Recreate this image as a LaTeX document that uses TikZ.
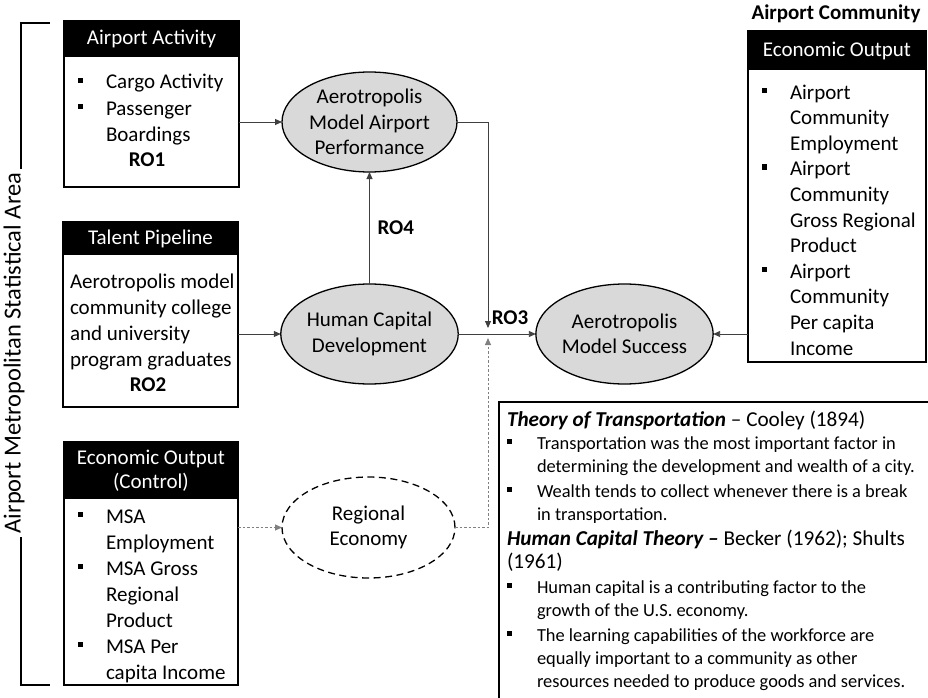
\documentclass[tikz,border=0pt]{standalone}
\usepackage{fontspec}
\setmainfont{Carlito}
\usetikzlibrary{shapes.geometric,arrows.meta}

\definecolor{bubblegray}{HTML}{D9D9D9}
\definecolor{linkgray}{HTML}{404040}
\definecolor{dotgray}{HTML}{808080}

% square list bullets, hung to the left of the item text
\newcommand\sqbul{\rule[6pt]{5.5pt}{5.5pt}}
\newcommand\sqbulsmall{\rule[5pt]{5pt}{5pt}}
\newcommand\bitem{\llap{\makebox[28.5pt][l]{\sqbul}}}
\newcommand\titem{\makebox[30pt][l]{\sqbulsmall}}
\newcommand\tcont{\hspace*{30pt}}
\newcommand\thhead[1]{{\fontsize{21.2}{23}\selectfont #1}}

\begin{document}
\begin{tikzpicture}[x=1pt,y=-1pt,
  every node/.style={inner sep=0pt,outer sep=0pt},
  >={Triangle[length=7pt,width=6pt]},
  frame/.style={draw=black,line width=1.8pt,anchor=north west},
  headbar/.style={fill=black,text=white,anchor=north west,align=center,
    font=\fontsize{21}{24}\selectfont},
  body/.style={anchor=north west,align=left,font=\fontsize{21}{26}\selectfont},
  bubble/.style={ellipse,draw=black,line width=1.3pt,fill=bubblegray,
    minimum width=175pt,minimum height=100pt,align=center,
    font=\fontsize{21}{25.5}\selectfont},
  rolabel/.style={font=\fontsize{21}{25}\selectfont\bfseries},
  link/.style={draw=linkgray,line width=0.9pt,->},
  dotlink/.style={draw=dotgray,line width=1pt,dash pattern=on 2.5pt off 2pt,->}
]
\useasboundingbox (0,0) rectangle (928,698);

% bracket spanning the metropolitan area
\draw[line width=1.3pt] (50,23) -- (21,23) -- (21,685) -- (50,685);
\node[fill=white,rotate=90,inner xsep=4pt,font=\fontsize{24.5}{28}\selectfont]
  (msalabel) at (14,353) {Airport Metropolitan Statistical Area};

% Airport Activity
\node[frame,minimum width=175pt,minimum height=166pt] (aabox) at (64,21) {};
\node[headbar,minimum width=175pt,minimum height=36pt] (aahead) at (64,21) {Airport Activity};
\node[body] (aatext) at (106,70.8) {\strut\bitem Cargo Activity\\ \bitem Passenger\\ Boardings};
\node[rolabel] (ro1) at (147,160) {RO1};

% Talent Pipeline
\node[frame,minimum width=175pt,minimum height=185pt] (tpbox) at (63,222) {};
\node[headbar,minimum width=175pt,minimum height=33pt] (tphead) at (63,222) {Talent Pipeline};
\node[body] (tptext) at (70,269.8) {\strut Aerotropolis model\\ community college\\ and university\\ program graduates};
\node[rolabel] (ro2) at (148,385) {RO2};

% Economic Output (Control)
\node[frame,minimum width=174pt,minimum height=243pt] (eocbox) at (64,442) {};
\node[headbar,minimum width=174pt,minimum height=57pt] (eochead) at (64,442) {Economic Output\\(Control)};
\node[body] (eoctext) at (106,504.8) {\strut\bitem MSA\\ Employment\\ \bitem MSA Gross\\ Regional\\ Product\\ \bitem MSA Per\\ capita Income};

% Airport Community
\node[font=\fontsize{21}{25}\selectfont\bfseries] (actitle) at (836,14) {Airport Community};
\node[frame,minimum width=178pt,minimum height=331pt] (rbbox) at (748,31) {};
\node[headbar,minimum width=178pt,minimum height=39pt] (rbhead) at (748,31) {Economic Output};
\node[body,font=\fontsize{21}{25.6}\selectfont] (rbtext) at (790,81.1) {\strut\bitem Airport\\ Community\\ Employment\\ \bitem Airport\\ Community\\ Gross Regional\\ Product\\ \bitem Airport\\ Community\\ Per capita\\ Income};

% model constructs
\node[bubble] (amap) at (369.5,122) {Aerotropolis\\Model Airport\\Performance};
\node[bubble] (hcd) at (369.5,334) {Human Capital\\Development};
\node[bubble] (ms) at (624.5,334) {Aerotropolis\\Model Success};
\node[bubble,fill=white,dash pattern=on 7pt off 4.5pt,minimum width=173pt,minimum height=101pt]
  (re) at (368.5,527.5) {Regional\\Economy};

% theory panel
\node[frame,line width=2.2pt,minimum width=460pt,minimum height=330pt] (thbox) at (499,402) {};
\node[body,font=\fontsize{18.4}{23}\selectfont] (thtext) at (507,409.9) {%
\strut\thhead{\textbf{\textit{Theory of Transportation}} – Cooley (1894)}\\
\titem Transportation was the most important factor in\\
\tcont determining the development and wealth of a city.\\[2pt]
\titem Wealth tends to collect whenever there is a break\\
\tcont in transportation.\\[2pt]
\thhead{\textbf{\textit{Human Capital Theory –}} Becker (1962); Shults}\\
\thhead{(1961)}\\[2pt]
\titem Human capital is a contributing factor to the\\
\tcont growth of the U.S. economy.\\[2pt]
\titem The learning capabilities of the workforce are\\
\tcont equally important to a community as other\\
\tcont resources needed to produce goods and services.};

% connectors
\coordinate (jn) at (488,335);
\draw[link] (amap.west -| aabox.east) -- (amap.west);
\draw[link] (hcd.west -| tpbox.east) -- (hcd.west);
\draw[link] (hcd.north) -- node[rolabel,anchor=west,xshift=8pt] (ro4) {RO4} (amap.south);
\draw[link] (amap.east) -| ([yshift=7pt]jn);
\draw[link] (hcd.east) -- (ms.west);
\draw[link] (ms.east -| rbbox.west) -- (ms.east);
\draw[dotlink] (re.west -| eocbox.east) -- (re.west);
\draw[dotlink] (re.east) -| ([yshift=-3pt]jn);
\node[rolabel] (ro3) at (510,318) {RO3};
\end{tikzpicture}
\end{document}
